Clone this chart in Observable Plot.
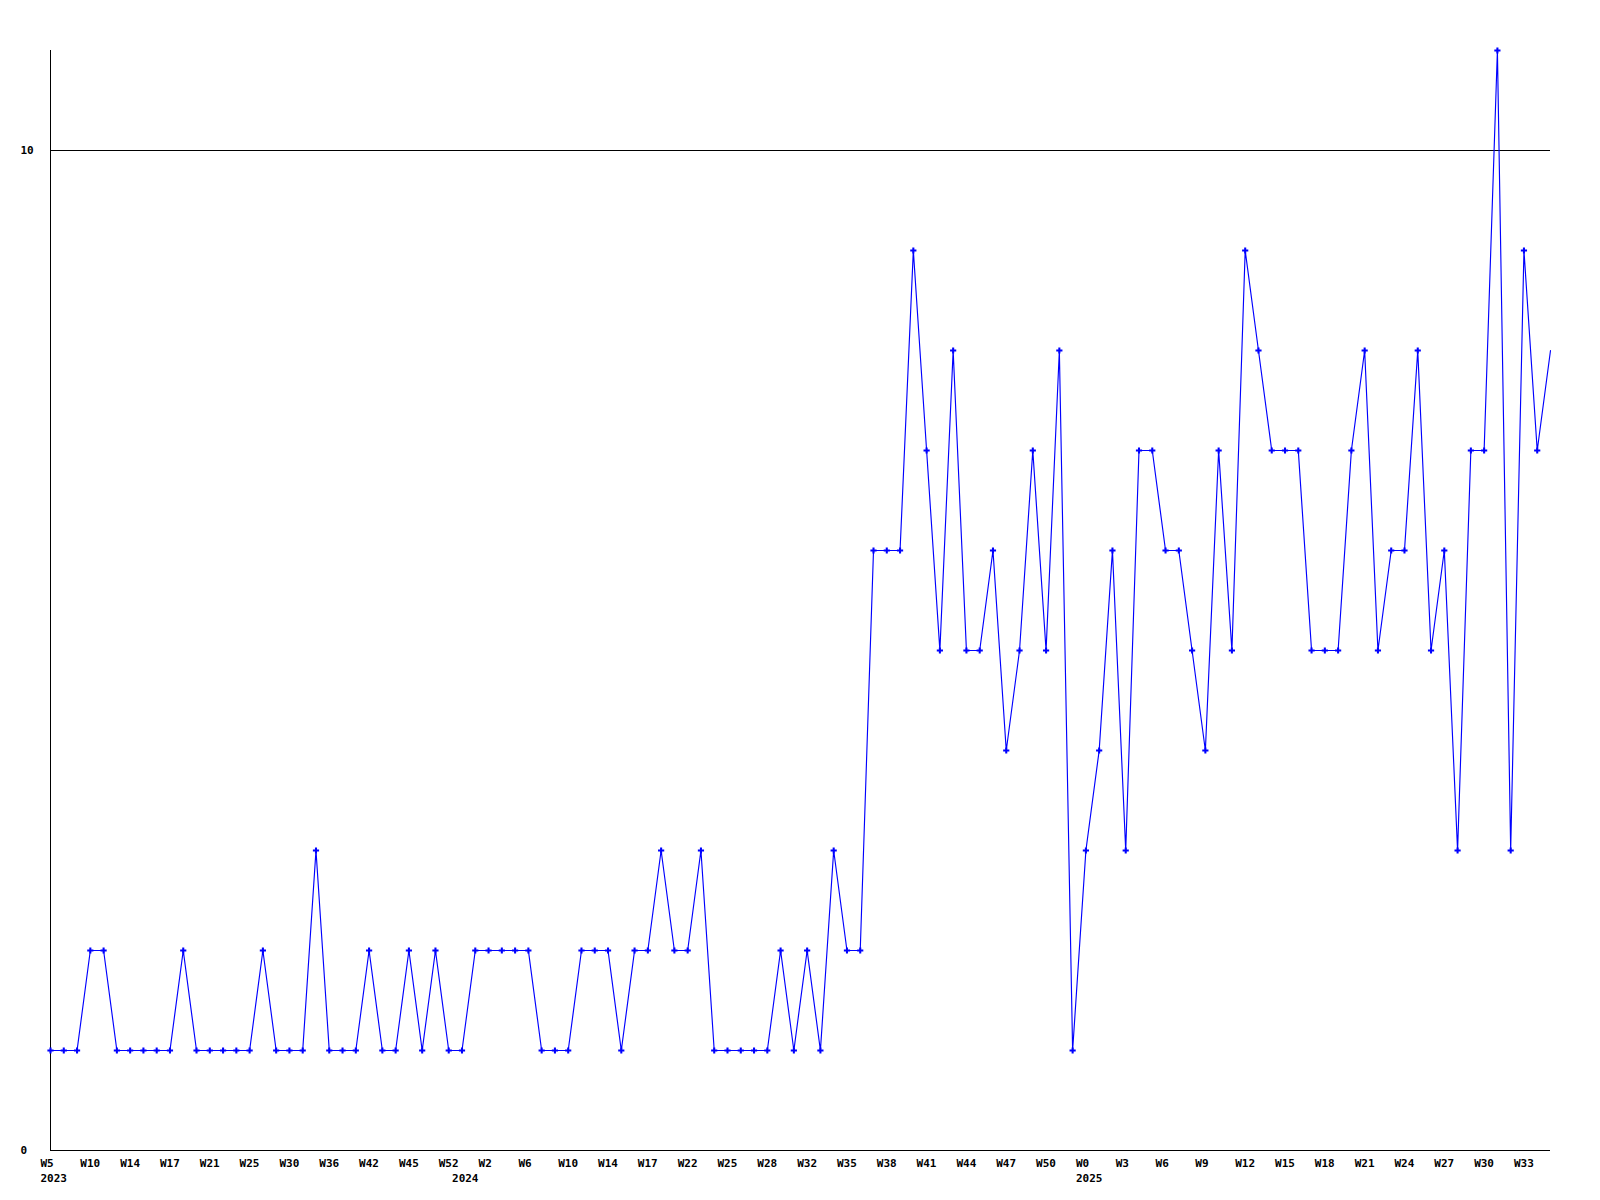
<!DOCTYPE html>
<html>
<head>
<meta charset="utf-8">
<script src="https://cdn.jsdelivr.net/npm/d3@7"></script>
<script src="https://cdn.jsdelivr.net/npm/@observablehq/plot@0.6"></script>
<style>
  html, body { margin: 0; padding: 0; background: #fff; }
  #chart svg { display: block; }
</style>
</head>
<body>
<div id="chart"></div>
<script>
// Weekly counts, in order (one per plotted week)
const values = [
  1,1,1,2,2,1,1,1,1,1,
  2,1,1,1,1,1,2,1,1,1,
  3,1,1,1,2,1,1,2,1,2,
  1,1,2,2,2,2,2,1,1,1,
  2,2,2,1,2,2,3,2,2,3,
  1,1,1,1,1,2,1,2,1,3,
  2,2,6,6,6,9,7,5,8,5,
  5,6,4,5,7,5,8,1,3,4,
  6,3,7,7,6,6,5,4,7,5,
  9,8,7,7,7,5,5,5,7,8,
  5,6,6,8,5,6,3,7,7,11,
  3,9,7,8
];
// Week tick labels, shown on every third point
const tickLabels = [
  "W5","W10","W14","W17","W21","W25","W30","W36","W42","W45","W52",
  "W2","W6","W10","W14","W17","W22","W25","W28","W32","W35","W38","W41","W44","W47","W50",
  "W0","W3","W6","W9","W12","W15","W18","W21","W24","W27","W30","W33"
];
const tickStep = 3;
// Year labels and the index of the first point of each year
const years = ["2023", "2024", "2025"];
const yearStart = [0, 31, 78];
// Y axis labelled values
const yTicks = [0, 10];

const data = values.map((v, i) => ({i, v}));
const tickIdx = tickLabels.map((_, k) => k * tickStep);

const chart = Plot.plot({
  width: 1600,
  height: 1200,
  marginLeft: 50,
  marginRight: 50,
  marginTop: 50,
  marginBottom: 50,
  style: {background: "#fff", color: "#000", fontFamily: "'DejaVu Sans Mono', monospace", fontSize: "11px", fontWeight: "bold"},
  x: {type: "linear", domain: [0, values.length - 1]},
  y: {type: "linear", domain: [0, 11]},
  marks: [
    Plot.ruleY([10], {stroke: "#000", strokeWidth: 1, shapeRendering: "crispEdges"}),
    Plot.ruleY([0], {stroke: "#000", strokeWidth: 1, shapeRendering: "crispEdges"}),
    Plot.ruleX([0], {stroke: "#000", strokeWidth: 1, shapeRendering: "crispEdges"}),
    Plot.line(data, {x: "i", y: "v", stroke: "#0000ff", strokeWidth: 1.15}),
    Plot.dot(data.slice(0, -1), {x: "i", y: "v", symbol: "cross", r: 2.6, fill: "#0000ff", stroke: "none"}),
    Plot.axisX({
      ticks: tickIdx, tickSize: 0, tickPadding: 9, label: null,
      tickFormat: d => tickLabels[d / tickStep],
      textAnchor: "start", dx: -10, fontWeight: "bold", fontSize: 11
    }),
    Plot.axisX({
      ticks: yearStart, tickSize: 0, tickPadding: 24, label: null,
      tickFormat: d => years[yearStart.indexOf(d)],
      textAnchor: "start", dx: -10, fontWeight: "bold", fontSize: 11
    }),
    Plot.axisY({
      ticks: yTicks, tickSize: 0, tickPadding: 30, label: null,
      tickFormat: d => String(d),
      textAnchor: "start", fontWeight: "bold", fontSize: 11
    })
  ]
});
document.getElementById("chart").appendChild(chart);
</script>
</body>
</html>
